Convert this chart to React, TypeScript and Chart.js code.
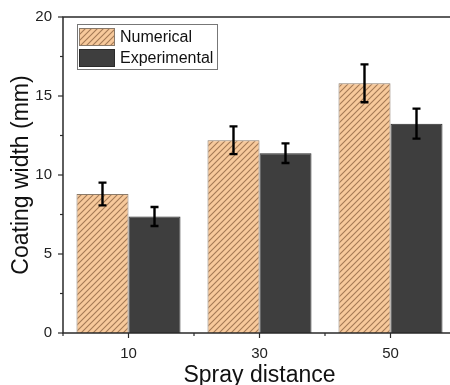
import React, { useEffect, useRef } from "react";
import { Chart, registerables } from "chart.js";

Chart.register(...registerables);

// Spray distance categories and measured coating widths (mm)
const categories = ["10", "30", "50"];
const numerical = [8.8, 12.2, 15.8];
const numericalErr = [0.72, 0.88, 1.2];
const experimental = [7.37, 11.38, 13.25];
const experimentalErr = [0.6, 0.62, 0.95];
const yTicks = [0, 5, 10, 15, 20];
const yMinorTicks = [2.5, 7.5, 12.5, 17.5];
const seriesNames = ["Numerical", "Experimental"];

const W = 470;
const H = 385;
const FONT = "Arial, 'Liberation Sans', sans-serif";
const AXIS = "#2a2a2a";

function makeHatch(): CanvasPattern | string {
  const c = document.createElement("canvas");
  const s = 6;
  c.width = s;
  c.height = s;
  const g = c.getContext("2d");
  if (!g) return "#f6c798";
  g.fillStyle = "#f7c99b";
  g.fillRect(0, 0, s, s);
  g.strokeStyle = "#a47a55";
  g.lineWidth = 1.1;
  g.beginPath();
  g.moveTo(0, s);
  g.lineTo(s, 0);
  g.moveTo(-s / 2, s / 2);
  g.lineTo(s / 2, -s / 2);
  g.moveTo(s / 2, s + s / 2);
  g.lineTo(s + s / 2, s / 2);
  g.stroke();
  const p = g.createPattern(c, "repeat");
  return p || "#f6c798";
}

const errorBars = {
  id: "errorBars",
  afterDatasetsDraw(chart: any) {
    const ctx = chart.ctx;
    const y = chart.scales.y;
    const errs = [numericalErr, experimentalErr];
    ctx.save();
    ctx.strokeStyle = "#000";
    ctx.lineWidth = 2.4;
    chart.data.datasets.forEach((ds: any, di: number) => {
      const meta = chart.getDatasetMeta(di);
      meta.data.forEach((bar: any, i: number) => {
        const v = ds.data[i];
        const e = errs[di][i];
        const top = y.getPixelForValue(v + e);
        const bot = y.getPixelForValue(v - e);
        const x = bar.x;
        ctx.beginPath();
        ctx.moveTo(x, top);
        ctx.lineTo(x, bot);
        ctx.moveTo(x - 4, top);
        ctx.lineTo(x + 4, top);
        ctx.moveTo(x - 4, bot);
        ctx.lineTo(x + 4, bot);
        ctx.stroke();
      });
    });
    ctx.restore();
  },
};

const axesAndLabels = {
  id: "axesAndLabels",
  afterDraw(chart: any) {
    const ctx = chart.ctx;
    const { left, right, top, bottom } = chart.chartArea;
    const x = chart.scales.x;
    const y = chart.scales.y;
    ctx.save();
    ctx.strokeStyle = AXIS;
    ctx.lineWidth = 1.5;
    // frame
    ctx.beginPath();
    ctx.moveTo(right, top);
    ctx.lineTo(left, top);
    ctx.lineTo(left, bottom);
    ctx.lineTo(right, bottom);
    ctx.stroke();

    // y ticks
    ctx.lineWidth = 1.2;
    ctx.fillStyle = "#222";
    ctx.font = `15px ${FONT}`;
    ctx.textAlign = "right";
    ctx.textBaseline = "middle";
    yTicks.forEach((t) => {
      const py = y.getPixelForValue(t);
      ctx.beginPath();
      ctx.moveTo(left - 5, py);
      ctx.lineTo(left, py);
      ctx.stroke();
      ctx.fillText(String(t), left - 11, py);
    });
    yMinorTicks.forEach((t) => {
      const py = y.getPixelForValue(t);
      ctx.beginPath();
      ctx.moveTo(left - 3, py);
      ctx.lineTo(left, py);
      ctx.stroke();
    });

    // x ticks
    ctx.textAlign = "center";
    ctx.textBaseline = "top";
    categories.forEach((c, i) => {
      const px = x.getPixelForValue(i);
      ctx.beginPath();
      ctx.moveTo(px, bottom);
      ctx.lineTo(px, bottom + 5);
      ctx.stroke();
      ctx.fillText(c, px, bottom + 13);
    });
    for (let i = 0; i <= categories.length; i++) {
      const px = x.getPixelForValue(i - 0.5);
      ctx.beginPath();
      ctx.moveTo(px, bottom);
      ctx.lineTo(px, bottom + 3);
      ctx.stroke();
    }

    // axis titles
    ctx.font = `23px ${FONT}`;
    ctx.fillStyle = "#111";
    ctx.textBaseline = "alphabetic";
    ctx.fillText("Spray distance", x.getPixelForValue(1), 382);
    ctx.save();
    ctx.translate(28, (top + bottom) / 2);
    ctx.rotate(-Math.PI / 2);
    ctx.textAlign = "center";
    ctx.textBaseline = "alphabetic";
    ctx.fillText("Coating width (mm)", 0, 0);
    ctx.restore();

    // legend
    const lx = 77;
    const ly = 24;
    ctx.fillStyle = "#fff";
    ctx.fillRect(lx, ly, 140, 45);
    ctx.strokeStyle = "#777";
    ctx.lineWidth = 1;
    ctx.strokeRect(lx + 0.5, ly + 0.5, 140, 45);
    const ds = chart.data.datasets;
    seriesNames.forEach((name, i) => {
      const sy = ly + 4 + i * 21;
      ctx.fillStyle = ds[i].backgroundColor;
      ctx.fillRect(lx + 2, sy, 36, 18);
      ctx.strokeStyle = ds[i].borderColor;
      ctx.strokeRect(lx + 2.5, sy + 0.5, 35, 17);
      ctx.fillStyle = "#111";
      ctx.font = `16px ${FONT}`;
      ctx.textAlign = "left";
      ctx.textBaseline = "middle";
      ctx.fillText(name, lx + 43, sy + 9.5);
    });
    ctx.restore();
  },
};

export default function App() {
  const ref = useRef<HTMLCanvasElement | null>(null);

  useEffect(() => {
    document.body.style.overflow = "hidden";
    const canvas = ref.current;
    if (!canvas) return;
    const chart = new Chart(canvas, {
      type: "bar",
      data: {
        labels: categories,
        datasets: [
          {
            label: seriesNames[0],
            data: numerical,
            backgroundColor: makeHatch() as any,
            borderColor: "#8a7a6a",
            borderWidth: 1,
            barPercentage: 1,
            categoryPercentage: 0.794,
          },
          {
            label: seriesNames[1],
            data: experimental,
            backgroundColor: "#3e3e3e",
            borderColor: "#2a2a2a",
            borderWidth: 1,
            barPercentage: 1,
            categoryPercentage: 0.794,
          },
        ],
      },
      options: {
        responsive: false,
        animation: false,
        devicePixelRatio: 1,
        layout: { padding: { left: 63, top: 17, right: W - 456, bottom: H - 333 } },
        plugins: { legend: { display: false }, tooltip: { enabled: false } },
        scales: {
          x: { display: false, offset: true },
          y: { display: false, min: 0, max: 20 },
        },
      },
      plugins: [errorBars, axesAndLabels],
    });
    return () => chart.destroy();
  }, []);

  return (
    <div style={{ position: "fixed", left: 0, top: 0, width: W, height: H, background: "#fff" }}>
      <canvas ref={ref} width={W} height={H} />
    </div>
  );
}
